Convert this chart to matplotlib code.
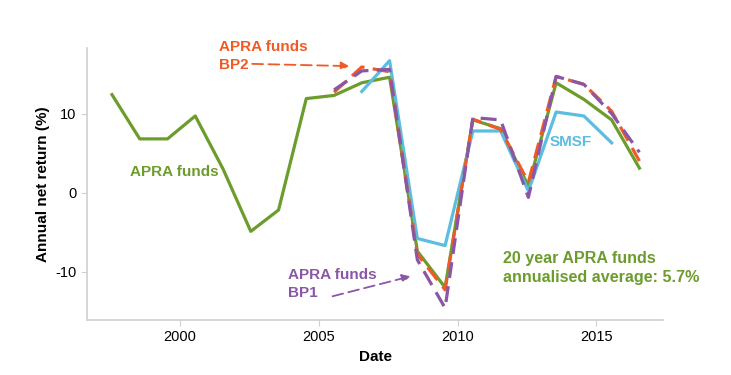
import matplotlib
matplotlib.use('Agg')
from matplotlib import pyplot as plt

plt.rcParams['font.family'] = ['Liberation Sans', 'DejaVu Sans']
plt.rcParams['axes.unicode_minus'] = False

# financial years (points sit at mid-year)
years_apra = [1997.55 + i for i in range(20)]
apra = [12.4, 6.8, 6.8, 9.7, 3.0, -4.9, -2.2, 11.9, 12.3, 13.9,
        14.6, -7.4, -12.0, 9.2, 8.1, 0.8, 13.9, 11.8, 9.2, 3.1]

years_smsf = [2006.55 + i for i in range(10)]
smsf = [12.8, 16.7, -5.8, -6.7, 7.8, 7.8, 0.2, 10.2, 9.7, 6.3]

years_bp = [2005.55 + i for i in range(12)]
bp2 = [12.7, 15.9, 15.3, -7.8, -12.3, 9.3, 8.0, 1.3, 14.7, 13.7, 10.3, 4.0]
bp1 = [13.0, 15.4, 15.6, -8.5, -14.6, 9.5, 9.2, -0.6, 14.7, 13.7, 10.0, 5.1]

green = '#6c9d2c'
orange = '#f05a24'
purple = '#8a56a6'
blue = '#5bbde0'
grey = '#d0d0d0'

fig = plt.figure(figsize=(7.31, 3.75), dpi=100)
ax = fig.add_axes([0.119, 0.147, 0.788, 0.725])

ax.plot(years_apra, apra, color=green, lw=2.3, zorder=2)
ax.plot(years_smsf, smsf, color=blue, lw=2.3, zorder=3)
ax.plot(years_bp, bp2, color=orange, lw=2.3, ls=(0, (5, 2.6)), zorder=4)
ax.plot(years_bp, bp1, color=purple, lw=2.3, ls=(0, (5, 2.6)), zorder=5)

ax.set_xlim(1996.65, 2017.4)
ax.set_ylim(-16.1, 18.3)
ax.set_xticks([2000, 2005, 2010, 2015])
ax.set_yticks([-10, 0, 10])

for s in ['top', 'right']:
    ax.spines[s].set_visible(False)
for s in ['left', 'bottom']:
    ax.spines[s].set_color(grey)
    ax.spines[s].set_linewidth(1.2)
ax.tick_params(axis='both', colors=grey, labelcolor='black', labelsize=10.5, length=4)

ax.set_xlabel('Date', fontsize=11, fontweight='bold')
ax.set_ylabel('Annual net return (%)', fontsize=11, fontweight='bold')

# labels and arrows
ax.text(1998.2, 2.6, 'APRA funds', color=green, fontsize=11, fontweight='bold', va='center')
ax.text(2013.3, 6.4, 'SMSF', color=blue, fontsize=11, fontweight='bold', va='center')
ax.text(2011.65, -9.5, '20 year APRA funds\nannualised average: 5.7%', color=green,
        fontsize=11.6, fontweight='bold', va='center', linespacing=1.3)

ax.text(2001.4, 17.3, 'APRA funds\nBP2', color=orange, fontsize=11, fontweight='bold',
        va='center', linespacing=1.35)
ax.annotate('', xy=(2006.2, 16.0), xytext=(2002.5, 16.3),
            arrowprops=dict(arrowstyle='-|>', color=orange, lw=1.3, ls=(0, (6, 3)),
                            mutation_scale=12))

ax.text(2003.9, -11.6, 'APRA funds\nBP1', color=purple, fontsize=11, fontweight='bold',
        va='center', linespacing=1.35)
ax.annotate('', xy=(2008.4, -10.5), xytext=(2005.4, -13.2),
            arrowprops=dict(arrowstyle='-|>', color=purple, lw=1.3, ls=(0, (6, 3)),
                            mutation_scale=12))

fig.savefig('out.png', dpi=100)
